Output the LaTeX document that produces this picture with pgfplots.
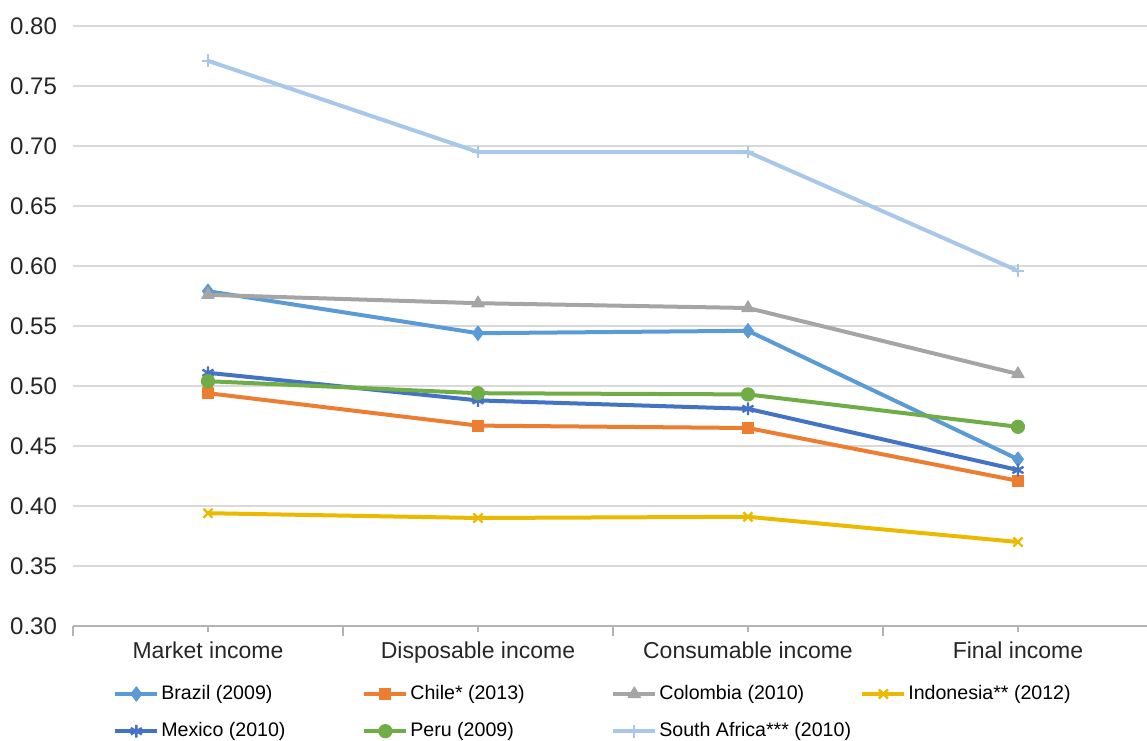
\documentclass[border=0pt]{standalone}
\usepackage{pgfplots}
\pgfplotsset{compat=1.18}
\usepackage{fontspec}
\setmainfont{Liberation Sans}

\definecolor{brazil}{RGB}{91,155,213}
\definecolor{chile}{RGB}{237,125,49}
\definecolor{colombia}{RGB}{165,165,165}
\definecolor{indonesia}{RGB}{235,185,0}
\definecolor{mexico}{RGB}{68,114,196}
\definecolor{peru}{RGB}{112,173,71}
\definecolor{safrica}{RGB}{168,199,233}
\definecolor{gridgray}{RGB}{217,217,217}
\definecolor{axisgray}{RGB}{180,180,180}

\newcommand{\legtext}[1]{\makebox[99.5pt][l]{#1}}

\begin{document}
\begin{tikzpicture}
\begin{axis}[
  at={(36.5pt,57pt)}, anchor=south west,
  scale only axis, width=537pt, height=300pt,
  xmin=-0.5, xmax=3.478, ymin=0.30, ymax=0.80,
  ytick={0.30,0.35,0.40,0.45,0.50,0.55,0.60,0.65,0.70,0.75,0.80},
  yticklabel style={/pgf/number format/fixed, /pgf/number format/fixed zerofill,
    /pgf/number format/precision=2, anchor=east, xshift=-1.5pt,
    font=\fontsize{12}{13}\selectfont},
  /pgf/number format/assume math mode=true,
  tick label style={font=\fontsize{11.5}{13}\selectfont, text=black!85},
  ymajorgrids, grid style={draw=gridgray, line width=1pt},
  axis x line*=bottom, axis y line*=left,
  y axis line style={draw=none},
  x axis line style={draw=axisgray, line width=1pt, -},
  ytick style={draw=none},
  xtick={0,1,2,3},
  xticklabels={Market income, Disposable income, Consumable income, Final income},
  xticklabel style={yshift=-1.5pt},
  xtick style={draw=axisgray, line width=0.8pt},
  major tick length=3pt, tick align=outside,
  extra x ticks={-0.5,0.5,1.5,2.5},
  extra x tick labels={},
  extra x tick style={major tick length=5pt},
  line join=round,
  legend columns=4,
  legend cell align=left,
  legend style={at={(0.0372,-0.095)}, anchor=north west, draw=none,
    font=\fontsize{9.8}{12}\selectfont, inner sep=0pt,
    nodes={inner sep=1pt},
    /tikz/every even column/.append style={column sep=0pt},
    row sep=8pt},
  legend image code/.code={\draw[mark repeat=2, mark phase=2]
    plot coordinates {(0pt,0pt) (10.5pt,0pt) (21pt,0pt)};},
]
\addplot[brazil, line width=2pt, mark=diamond*, mark size=3.6pt, mark options={solid, line width=0.5pt}]
  coordinates {(0,0.579) (1,0.544) (2,0.546) (3,0.439)};
\addlegendentry{\legtext{Brazil (2009)}}
\addplot[chile, line width=2pt, mark=square*, mark size=2.8pt, mark options={solid, line width=0.5pt}]
  coordinates {(0,0.494) (1,0.467) (2,0.465) (3,0.421)};
\addlegendentry{\legtext{Chile* (2013)}}
\addplot[colombia, line width=2pt, mark=triangle*, mark size=3.6pt, mark options={solid, line width=0.5pt}]
  coordinates {(0,0.576) (1,0.569) (2,0.565) (3,0.510)};
\addlegendentry{\legtext{Colombia (2010)}}
\addplot[indonesia, line width=2pt, mark=x, mark size=3.2pt, mark options={solid, line width=1.2pt}]
  coordinates {(0,0.394) (1,0.390) (2,0.391) (3,0.370)};
\addlegendentry{\legtext{Indonesia** (2012)}}
\addplot[mexico, line width=2pt, mark=asterisk, mark size=3.2pt, mark options={solid, line width=1.2pt}]
  coordinates {(0,0.511) (1,0.488) (2,0.481) (3,0.430)};
\addlegendentry{\legtext{Mexico (2010)}}
\addplot[peru, line width=2pt, mark=*, mark size=3.3pt, mark options={solid, line width=0.5pt}]
  coordinates {(0,0.504) (1,0.494) (2,0.493) (3,0.466)};
\addlegendentry{\legtext{Peru (2009)}}
\addplot[safrica, line width=2pt, mark=+, mark size=3.2pt, mark options={solid, line width=1pt}]
  coordinates {(0,0.771) (1,0.695) (2,0.695) (3,0.596)};
\addlegendentry{\legtext{South Africa*** (2010)}}
\end{axis}
\pgfresetboundingbox
\path[use as bounding box] (0,0) rectangle (573.5pt,370pt);
\end{tikzpicture}
\end{document}
